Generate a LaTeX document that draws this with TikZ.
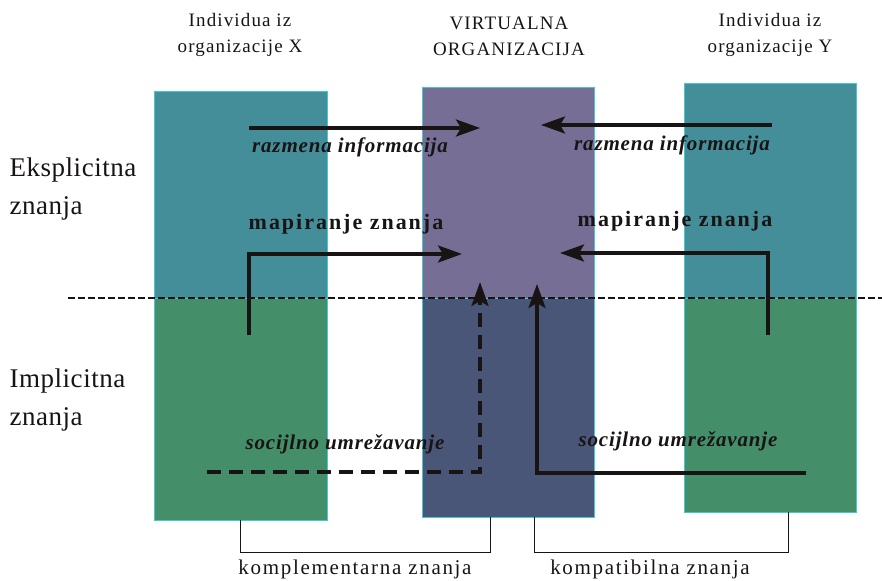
\documentclass[tikz,border=0pt]{standalone}
\usepackage{fontspec}
\setmainfont{Liberation Serif}
\usetikzlibrary{arrows.meta}
\definecolor{explcol}{RGB}{68,142,154}
\definecolor{implcol}{RGB}{69,142,106}
\definecolor{virtexpl}{RGB}{119,110,150}
\definecolor{virtimpl}{RGB}{74,86,120}
\definecolor{edgecol}{RGB}{70,200,210}
\definecolor{inkcol}{RGB}{25,20,20}
\begin{document}
\begin{tikzpicture}[x=1pt,y=-1pt,
  flow/.style={draw=inkcol, line width=3.5pt, -{Stealth[length=24pt,width=17pt,inset=5pt]}},
  dflow/.style={flow, dash pattern=on 14pt off 8pt},
  head/.style={font=\fontsize{19}{26}\selectfont\addfontfeature{LetterSpace=6}, align=center, text=inkcol},
  side/.style={font=\fontsize{27}{38}\selectfont\addfontfeature{LetterSpace=2}, align=left, anchor=west, text=inkcol},
  tag/.style={font=\fontsize{21}{24}\selectfont\bfseries\itshape\addfontfeature{LetterSpace=4}, text=inkcol},
  mtag/.style={font=\fontsize{22}{24}\selectfont\bfseries\addfontfeature{LetterSpace=9}, text=inkcol},
  btag/.style={font=\fontsize{21}{24}\selectfont\addfontfeature{LetterSpace=8}, text=inkcol},
  brace/.style={draw=inkcol, line width=1pt}]
\useasboundingbox (0,0) rectangle (882,580);
% columns: x left, x right, top, bottom
\pgfmathsetmacro\split{298};
\fill[explcol] (154,91) rectangle (327,\split);
\fill[implcol] (154,\split) rectangle (327,520);
\fill[virtexpl] (422,87) rectangle (594,\split);
\fill[virtimpl] (422,\split) rectangle (594,517);
\fill[explcol] (684,83) rectangle (856,\split);
\fill[implcol] (684,\split) rectangle (856,512);
\foreach \xa/\xb/\ya/\yb in {154/327/91/520, 422/594/87/517, 684/856/83/512}
  \draw[edgecol, line width=0.8pt] (\xa,\ya) rectangle (\xb,\yb) (\xa,\split) -- (\xb,\split);
% separator
\draw[inkcol, line width=2pt, dash pattern=on 7pt off 3pt] (68,\split) -- (882,\split);
% headers
\node[head] (orgx) at (240,35) {Individua iz\\organizacije X};
\node[head] (virt) at (509,36) {VIRTUALNA\\ORGANIZACIJA};
\node[head] (orgy) at (770,35) {Individua iz\\organizacije Y};
\node[side] (ekspl) at (6,189) {Eksplicitna\\znanja};
\node[side] (impl) at (6,400) {Implicitna\\znanja};
% arrow ends
\coordinate (rxs) at (249,128);
\coordinate (rxe) at (480,128);
\coordinate (rys) at (772,125);
\coordinate (rye) at (541,125);
\coordinate (mxs) at (249,335);
\coordinate (mxe) at (462,254);
\coordinate (mys) at (768,335);
\coordinate (mye) at (560,253);
\coordinate (sxs) at (207,472);
\coordinate (sxe) at (480,282);
\coordinate (sys) at (806,473);
\coordinate (sye) at (537,284);
% exchange of information
\draw[flow] (rxs) -- (rxe);
\draw[flow] (rys) -- (rye);
\node[tag] (razx) at (350,147) {razmena informacija};
\node[tag] (razy) at (672,145) {razmena informacija};
% knowledge mapping
\node[mtag] (mapx) at (346,224) {mapiranje znanja};
\node[mtag] (mapy) at (675,221) {mapiranje znanja};
\draw[flow] (mxs) |- (mxe);
\draw[flow] (mys) |- (mye);
% social networking
\node[tag] (socx) at (345,444) {socijlno umrežavanje};
\node[tag] (socy) at (678,441) {socijlno umrežavanje};
\draw[dflow] (sxs) -| (sxe);
\draw[flow] (sys) -| (sye);
% brackets below
\draw[brace] (240,520) -- (240,552) -- (490,552) -- (490,517);
\draw[brace] (534,517) -- (534,552) -- (788,552) -- (788,512);
\node[btag] (kompl) at (355,569) {komplementarna znanja};
\node[btag] (kompa) at (650,569) {kompatibilna znanja};
\end{tikzpicture}
\end{document}
